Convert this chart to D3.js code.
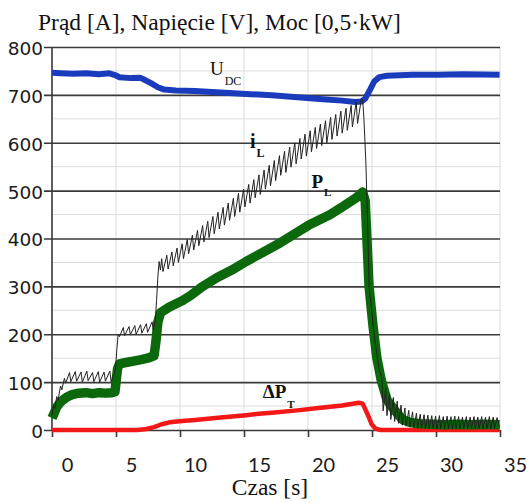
<!DOCTYPE html>
<html>
<head>
    <title>Prad, napiecie, moc</title>
    <meta charset="utf-8">
    <script src="https://cdn.jsdelivr.net/npm/d3@7"></script>
    <style>
        body { margin: 0; background: #fff; }
    </style>
</head>
<body>
<div class="chart-area"></div>
<script type="text/javascript">
    // tick values
    var xTicks = [0, 5, 10, 15, 20, 25, 30, 35];
    var xGridTicks = [-1.17, 3.83, 8.83, 13.83, 18.83, 23.83, 28.83, 33.83];
    var yMajor = [0, 100, 200, 300, 400, 500, 600, 700, 800];
    var yMinor = [50, 150, 250, 350, 450, 550, 650, 750];

    // U_DC [V]  (t [s], value)
    var udc = [[-1.17,746],[-0.5,745],[0.5,744],[1.5,745],[2.5,743],[3.3,745],[3.7,742],[4.1,737],
        [5,735],[5.7,736],[6.1,731],[6.6,724],[7.1,716],[7.6,711],[8.5,709],[10,708],[12,705],
        [14,702],[16,699],[18,695],[20,691],[21.5,688],[22.5,685],[23.0,686],[23.3,692],[23.7,712],
        [24.0,728],[24.4,737],[25,740],[27,742],[29,742],[31,743],[33.8,742]];

    // P_L [0,5 kW]
    var pL = [[-1.17,25],[-1.0,35],[-0.8,48],[-0.55,57],[-0.3,63],[0,69],[0.4,74],[0.9,77],[1.5,78],
        [2.0,76],[2.5,78],[3.0,77],[3.5,78],[3.75,80],[3.85,105],[3.95,128],[4.1,138],[4.6,141],
        [5.2,144],[5.8,147],[6.3,150],[6.8,155],[6.95,185],[7.1,225],[7.3,245],[8,257],[9,270],
        [9.6,280],[10.5,298],[11.7,318],[12.8,333],[14,352],[15.3,371],[16.6,390],[17.8,410],
        [18.9,428],[20.5,449],[21.5,466],[22.6,485],[23.1,497],[23.3,478],[23.6,300],[23.9,220],
        [24.2,152],[24.55,104],[25.0,63],[25.4,48],[25.8,35],[26.2,22],[26.8,16],[27.5,13],
        [28.5,12],[29.5,11],[30.5,12],[31.5,11],[32.5,12],[33.8,11]];

    // delta P_T [0,5 kW]
    var dPT = [[-1.17,0],[2,0],[5.5,0],[6.2,2],[6.8,6],[7.4,12],[8,16],[9,19],[10,21],[12,26],
        [14,31],[15,34],[16,36],[18,41],[20,47],[21.5,51],[22.8,57],[23.1,55],[23.5,32],[23.8,12],
        [24.1,3],[24.5,0],[33.8,0]];

    // i_L [A]
    var iL = [[-1.17,30],[-1.05,52],[-0.95,45],[-0.8,70],[-0.7,62],[-0.5,92],[-0.4,84],[-0.2,108],[-0.1,98],
        [0.2,120],[0.3,101],[0.65,122],[0.75,102],[1.1,121],[1.2,100],[1.55,123],[1.65,103],[2.0,120],
        [2.1,101],[2.45,122],[2.55,100],[2.9,121],[3.0,102],[3.35,123],[3.45,101],[3.7,118],
        [3.8,130],[3.9,170],[4.0,200],[4.1,195],[4.4,214],[4.5,197],[4.85,216],[4.95,199],[5.3,218],
        [5.4,200],[5.75,220],[5.85,202],[6.2,222],[6.3,204],[6.65,226],[6.75,208],
        [6.9,230],[7.0,270],[7.1,320],[7.2,352],[7.3,334],
        [7.4,358],[7.5,331],[7.8,365],[7.9,336],[8.2,372],[8.3,343],[8.6,380],[8.7,350],
        [9.0,389],[9.1,358],[9.4,398],[9.5,368],[9.8,407],[9.9,376],[10.2,417],[10.3,385],
        [10.6,427],[10.7,393],[11.0,436],[11.1,402],[11.4,446],[11.5,410],[11.8,455],[11.9,420],
        [12.2,465],[12.3,428],[12.6,474],[12.7,438],[13.0,484],[13.1,446],[13.4,494],[13.5,455],
        [13.8,503],[13.9,466],[14.2,513],[14.3,474],[14.6,523],[14.7,485],[15.0,533],[15.1,492],
        [15.4,543],[15.5,503],[15.8,553],[15.9,510],[16.2,563],[16.3,521],[16.6,573],[16.7,532],
        [17.0,582],[17.1,538],[17.4,591],[17.5,549],[17.8,600],[17.9,556],[18.2,609],[18.3,566],
        [18.6,618],[18.7,572],[19.0,625],[19.1,581],[19.4,632],[19.5,588],[19.8,639],[19.9,594],
        [20.2,646],[20.3,600],[20.6,653],[20.7,607],[21.0,659],[21.1,614],[21.4,666],[21.5,620],
        [21.8,672],[21.9,626],[22.2,678],[22.3,633],[22.6,685],[22.7,640],[23.0,692],
        [23.1,690],[23.2,650],[23.35,560],[23.5,420],[23.6,300],[23.8,250],[24.0,200],[24.2,160],
        [24.4,125],[24.6,110],[24.7,40],[24.9,88],[25.0,30],[25.2,76],[25.3,22],[25.5,68],[25.6,18],
        [25.8,60],[25.9,14],[26.1,52],[26.2,10],[26.4,46],[26.5,8],[26.7,41],[26.8,6],[27.0,38],
        [27.1,5],[27.3,35],[27.4,4],[27.6,33],[27.7,4],[27.9,32],[28.0,3],[28.2,31],[28.3,3],
        [28.5,30],[28.6,3],[28.8,29],[28.9,2],[29.1,30],[29.2,3],[29.4,28],[29.5,2],[29.7,29],
        [29.8,3],[30.0,28],[30.1,2],[30.3,29],[30.4,3],[30.6,28],[30.7,2],[30.9,27],[31.0,3],
        [31.2,28],[31.3,2],[31.5,27],[31.6,3],[31.8,28],[31.9,2],[32.1,27],[32.2,3],[32.4,28],
        [32.5,2],[32.7,27],[32.8,3],[33.0,28],[33.1,2],[33.3,27],[33.4,3],[33.6,26],[33.8,5]];

    var W = 527, H = 503;
    var margin = { left: 52, right: 500, top: 47, bottom: 430 };

    var svg = d3.select(".chart-area")
        .append("svg")
        .attr("width", W)
        .attr("height", H);

    svg.append("rect").attr("width", W).attr("height", H).attr("fill", "#fff");

    var xScale = d3.scaleLinear().domain([-1.17, 33.83]).range([margin.left, margin.right]);
    var yScale = d3.scaleLinear().domain([0, 800]).range([margin.bottom, margin.top]);

    // light grid
    svg.append("g").selectAll("line")
        .data(xGridTicks)
        .enter().append("line")
        .attr("x1", function(d){ return xScale(d); })
        .attr("x2", function(d){ return xScale(d); })
        .attr("y1", margin.top).attr("y2", margin.bottom)
        .attr("stroke", "#dcdcdc").attr("stroke-width", 1);

    svg.append("g").selectAll("line")
        .data(yMinor)
        .enter().append("line")
        .attr("x1", margin.left).attr("x2", margin.right)
        .attr("y1", function(d){ return yScale(d); })
        .attr("y2", function(d){ return yScale(d); })
        .attr("stroke", "#dcdcdc").attr("stroke-width", 1);

    // major horizontal lines + y labels
    var yAxis = d3.axisLeft(yScale)
        .tickValues(yMajor)
        .tickSize(-(margin.right - margin.left + 8))
        .tickPadding(1)
        .tickFormat(d3.format("d"));

    var gy = svg.append("g")
        .attr("transform", "translate(" + (margin.left - 8) + ",0)")
        .call(yAxis);
    gy.select(".domain").remove();
    gy.selectAll(".tick line").attr("stroke", "#3a3a3a").attr("stroke-width", 1.6);
    gy.selectAll(".tick text")
        .attr("font-family", "DejaVu Sans")
        .attr("font-size", "18.5px")
        .attr("fill", "#1a1a1a")
        .attr("dy", "0.4em");

    // left axis line
    svg.append("line")
        .attr("x1", margin.left).attr("x2", margin.left)
        .attr("y1", margin.top).attr("y2", margin.bottom + 1)
        .attr("stroke", "#3a3a3a").attr("stroke-width", 1.6);

    // bottom tick marks
    var gxTicks = svg.append("g")
        .attr("transform", "translate(0," + margin.bottom + ")")
        .call(d3.axisBottom(xScale).tickValues(xGridTicks).tickSize(7).tickFormat(""));
    gxTicks.select(".domain").remove();
    gxTicks.selectAll(".tick line").attr("stroke", "#3a3a3a").attr("stroke-width", 1.6);

    // bottom labels
    var gx = svg.append("g")
        .attr("transform", "translate(0," + margin.bottom + ")")
        .call(d3.axisBottom(xScale).tickValues(xTicks).tickSize(0).tickPadding(28));
    gx.select(".domain").remove();
    gx.selectAll(".tick text")
        .attr("font-family", "Lato")
        .attr("font-size", "20px")
        .attr("fill", "#1a1a1a");

    // series
    var line = d3.line()
        .x(function(d){ return xScale(d[0]); })
        .y(function(d){ return yScale(d[1]); });

    svg.append("path").datum(dPT)
        .attr("d", line).attr("fill", "none")
        .attr("stroke", "#f21818").attr("stroke-width", 4.5)
        .attr("stroke-linejoin", "round");

    svg.append("path").datum(udc)
        .attr("d", line).attr("fill", "none")
        .attr("stroke", "#1b3bbd").attr("stroke-width", 6)
        .attr("stroke-linejoin", "round");

    svg.append("path").datum(pL)
        .attr("d", line).attr("fill", "none")
        .attr("stroke", "#0b690b").attr("stroke-width", 9.5)
        .attr("stroke-linejoin", "round");

    svg.append("path").datum(iL)
        .attr("d", line).attr("fill", "none")
        .attr("stroke", "#222").attr("stroke-width", 1)
        .attr("stroke-linejoin", "round");

    // series labels
    function label(t, v, main, sub, bold, size, subSize, subDy) {
        var txt = svg.append("text")
            .attr("x", xScale(t)).attr("y", yScale(v))
            .attr("font-family", "Liberation Serif")
            .attr("font-weight", bold ? "bold" : "normal")
            .attr("font-size", size + "px")
            .attr("fill", "#111");
        txt.append("tspan").text(main);
        txt.append("tspan").attr("dx", 1).attr("dy", subDy).attr("font-size", subSize + "px").text(sub);
    }
    label(11.17, 741, "U", "DC", false, 19, 12, 10);
    label(14.3, 590, "i", "L", true, 20, 12, 9);
    label(19.1, 506, "P", "L", true, 19, 11, 8);
    label(15.3, 67, "\u0394P", "T", true, 19, 11, 10);

    // title and axis title
    svg.append("text")
        .attr("x", 38).attr("y", 30)
        .attr("font-family", "Liberation Serif")
        .attr("font-size", "23.5px")
        .attr("fill", "#111")
        .text("Prąd [A], Napięcie [V], Moc [0,5·kW]");

    svg.append("text")
        .attr("x", 270).attr("y", 495)
        .attr("text-anchor", "middle")
        .attr("font-family", "Liberation Serif")
        .attr("font-size", "23.5px")
        .attr("fill", "#111")
        .text("Czas [s]");
</script>
</body>
</html>
